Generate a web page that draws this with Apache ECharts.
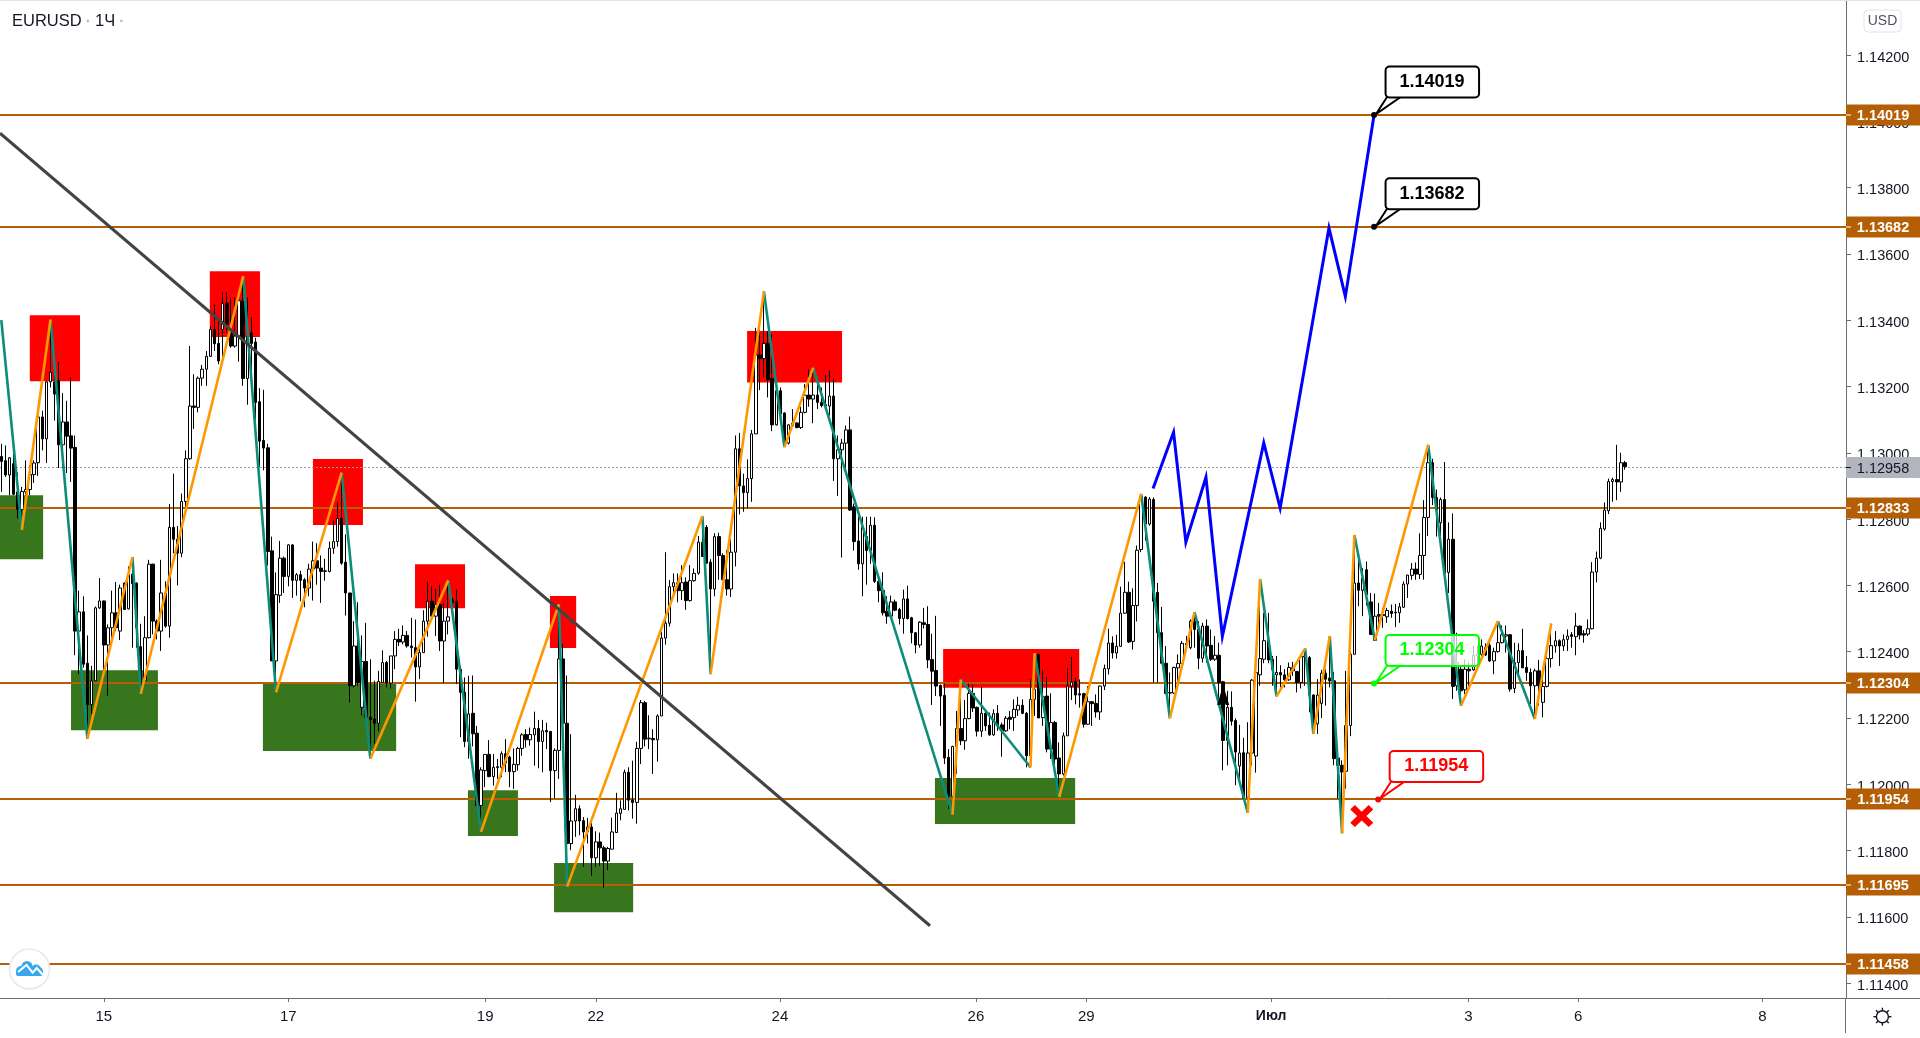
<!DOCTYPE html>
<html>
<head>
<meta charset="utf-8">
<title>EURUSD 1Ч</title>
<script src="https://cdn.jsdelivr.net/npm/echarts@6/dist/echarts.min.js"></script>
<style>
html,body{margin:0;padding:0;background:#fff}
#container{width:1920px;height:1038px}
</style>
</head>
<body>
<div id="container"></div>
<script type="text/javascript">
// hourly candles, prices in 1e-5 units
var opens = [
112989,112976,112933,112967,112882,112829,112882,112889,112934,112970,
113108,113042,113214,113214,113217,113024,113093,113051,113016,112462,
112520,112365,112240,112312,112532,112553,112420,112472,112517,112462,
112607,112529,112634,112607,112415,112312,112442,112664,112492,112462,
112577,112477,112775,112739,112697,112853,112982,113141,113137,113225,
113252,113291,113372,113330,113372,113451,113369,113322,113352,113457,
113224,113362,113334,113154,113037,113015,112704,112372,112570,112682,
112627,112722,112615,112632,112617,112592,112649,112674,112652,112642,
112642,112712,112732,112802,112670,112577,112297,112417,112232,112370,
112202,112197,112184,112307,112367,112305,112387,112437,112429,112449,
112417,112412,112354,112397,112492,112552,112507,112542,112432,112492,
112555,112552,112347,112277,112129,112214,112154,111936,112041,112090,
112023,112050,112051,112092,112082,112038,112059,112108,112150,112134,
112149,112168,112129,112162,112159,112041,112102,112378,112184,111821,
111889,111926,111890,111856,111871,111778,111826,111808,111768,111804,
111854,111912,111924,112036,111952,111945,112108,112246,112137,112138,
112134,112206,112441,112486,112596,112608,112584,112610,112554,112614,
112637,112730,112775,112670,112589,112747,112690,112617,112589,112700,
113012,112900,112880,112922,113057,113295,113284,113330,113223,113084,
113187,113120,113029,113089,113090,113076,113122,113174,113162,113174,
113152,113145,113141,113171,112982,113009,113029,113069,112837,112734,
112665,112747,112705,112781,112612,112584,112522,112507,112550,112527,
112500,112559,112502,112457,112420,112487,112482,112376,112343,112298,
112268,112081,111964,112114,112168,112131,112198,112274,112232,112160,
112214,112178,112149,112214,112179,112161,112202,112201,112224,112238,
112214,112086,112256,112391,112201,112266,112106,112186,112079,112031,
112146,112296,112311,112273,112273,112181,112249,112244,112218,112296,
112348,112426,112396,112416,112516,112579,112431,112539,112708,112866,
112785,112859,112579,112457,112365,112275,112275,112351,112364,112425,
112412,112492,112467,112380,112477,112419,112377,112389,112309,112132,
112232,112192,112055,112095,111959,112094,112085,112330,112377,112433,
112377,112330,112337,112330,112315,112342,112340,112307,112384,112382,
112269,112182,112244,112335,112320,112312,112079,112057,112039,112177,
112392,112607,112585,112647,112550,112434,112512,112512,112505,112522,
112519,112517,112534,112604,112630,112649,112633,112690,112805,112970,
112865,112789,112859,112639,112739,112297,112347,112285,112347,112345,
112387,112392,112412,112419,112372,112400,112427,112447,112451,112289,
112367,112403,112352,112337,112297,112342,112247,112295,112379,112417,
112433,112417,112437,112451,112445,112477,112454,112453,112469,112640,
112682,112770,112825,112913,112919,112912,112970];
var closes = [
112974,112933,112985,112875,112829,112883,112889,112935,112969,113108,
113042,113214,113243,113177,113024,113093,113050,113014,112462,112520,
112362,112240,112312,112532,112553,112420,112472,112517,112472,112592,
112527,112632,112605,112472,112277,112442,112664,112492,112462,112577,
112477,112775,112739,112697,112853,112982,113141,113137,113225,113252,
113291,113372,113329,113277,113451,113387,113322,113352,113459,113224,
113352,113330,113152,113035,113014,112702,112372,112572,112682,112627,
112722,112615,112632,112615,112592,112649,112674,112652,112642,112644,
112712,112732,112802,112667,112577,112297,112417,112307,112370,112202,
112195,112184,112310,112367,112305,112387,112437,112429,112449,112417,
112412,112354,112397,112492,112552,112507,112542,112432,112492,112505,
112547,112347,112277,112129,112212,112152,111936,112043,112090,112023,
112051,112053,112092,112064,112038,112060,112108,112149,112134,112150,
112168,112129,112161,112158,112041,112102,112378,112184,111821,111889,
111926,111889,111856,111871,111778,111826,111808,111768,111806,111856,
111913,111926,112036,111952,111945,112108,112246,112136,112139,112134,
112206,112441,112486,112596,112608,112584,112608,112554,112614,112636,
112730,112687,112667,112589,112747,112690,112617,112589,112700,113012,
112900,112880,112922,113057,113295,113284,113330,113221,113084,113187,
113117,113020,113084,113082,113076,113122,113174,113162,113174,113152,
113142,113141,113171,112982,113009,113029,113069,112827,112732,112665,
112775,112705,112781,112612,112584,112517,112507,112550,112525,112500,
112559,112500,112457,112420,112489,112482,112375,112341,112296,112266,
112079,111964,112114,112168,112131,112198,112274,112230,112160,112214,
112176,112149,112213,112176,112161,112199,112196,112226,112238,112214,
112086,112256,112286,112200,112264,112106,112186,112076,112031,112146,
112296,112308,112269,112269,112181,112249,112243,112218,112296,112349,
112426,112396,112416,112516,112579,112429,112539,112706,112869,112785,
112860,112552,112457,112365,112274,112277,112352,112364,112425,112420,
112492,112467,112380,112477,112417,112377,112389,112307,112132,112232,
112190,112097,112094,111957,112094,112314,112337,112379,112433,112375,
112347,112337,112330,112315,112352,112352,112307,112385,112387,112269,
112157,112269,112335,112317,112312,112077,112057,112037,112177,112392,
112607,112585,112622,112572,112452,112507,112507,112509,112524,112515,
112517,112535,112604,112631,112649,112634,112690,112805,112970,112865,
112827,112859,112637,112739,112295,112367,112282,112347,112342,112389,
112393,112417,112390,112372,112400,112427,112451,112451,112287,112367,
112403,112351,112337,112297,112342,112297,112295,112379,112418,112433,
112417,112436,112447,112446,112477,112450,112450,112469,112640,112682,
112772,112827,112913,112919,112912,112970,112958];
var highs = [
113027,113022,112987,112997,112941,112897,112977,112962,112977,113112,
113127,113217,113402,113247,113274,113180,113157,113229,113052,112584,
112567,112449,112357,112536,112622,112554,112482,112584,112610,112602,
112609,112657,112685,112609,112484,112507,112677,112665,112497,112677,
112612,112845,112937,112779,112877,113007,113322,113237,113230,113265,
113307,113382,113447,113397,113484,113484,113467,113469,113469,113533,
113469,113409,113347,113195,113190,113027,112747,112639,112734,112687,
112724,112724,112637,112644,112622,112665,112732,112727,112690,112680,
112732,112797,112852,112940,112754,112577,112492,112549,112449,112487,
112377,112312,112342,112404,112372,112387,112462,112469,112479,112462,
112502,112497,112417,112525,112611,112597,112589,112602,112547,112615,
112562,112587,112357,112322,112327,112328,112176,112051,112090,112133,
112091,112076,112099,112136,112086,112108,112113,112154,112166,112171,
112219,112194,112194,112186,112161,112108,112543,112424,112328,112151,
111968,111936,111901,111898,111886,111858,111854,111814,111811,111899,
111974,111951,112044,112051,112071,112128,112254,112251,112208,112166,
112211,112461,112700,112616,112636,112636,112661,112624,112661,112651,
112749,112809,112782,112679,112757,112759,112697,112707,112739,113052,
113060,112937,112980,113069,113377,113377,113487,113367,113357,113189,
113197,113122,113087,113132,113092,113139,113207,113252,113257,113207,
113197,113235,113249,113225,113052,113042,113082,113109,112847,112807,
112807,112807,112807,112805,112629,112639,112567,112569,112557,112532,
112587,112599,112505,112459,112492,112532,112537,112454,112508,112301,
112304,112106,112116,112221,112316,112254,112304,112301,112234,112294,
112226,112216,112226,112239,112186,112206,112221,112256,112264,112256,
112218,112316,112396,112394,112346,112324,112274,112191,112126,112156,
112351,112384,112321,112316,112276,112296,112251,112271,112298,112361,
112469,112446,112451,112596,112671,112611,112591,112720,112876,112869,
112866,112865,112607,112535,112417,112337,112355,112392,112432,112447,
112497,112519,112492,112487,112497,112467,112447,112427,112312,112282,
112280,112199,112179,112140,112187,112317,112372,112619,112517,112517,
112387,112387,112359,112347,112367,112369,112342,112392,112410,112387,
112272,112317,112345,112347,112447,112339,112117,112072,112342,112399,
112752,112677,112652,112672,112577,112575,112547,112532,112532,112542,
112544,112547,112612,112632,112667,112669,112757,112857,113024,112982,
112889,112865,112972,112790,112817,112457,112357,112377,112367,112417,
112419,112437,112425,112429,112412,112492,112479,112479,112452,112427,
112425,112469,112387,112349,112349,112375,112347,112395,112485,112462,
112437,112452,112467,112459,112517,112479,112465,112497,112670,112702,
112790,112850,112922,112925,113024,113000,112975];
var lows = [
112882,112927,112872,112872,112802,112767,112827,112872,112909,112930,
113007,112969,113197,113097,112954,112954,112939,112912,112389,112332,
112352,112137,112212,112312,112529,112317,112267,112422,112462,112435,
112527,112527,112412,112412,112272,112312,112440,112452,112437,112402,
112472,112442,112697,112600,112685,112817,112979,113072,113122,113202,
113202,113289,113307,113267,113277,113362,113317,113317,113275,113202,
113145,113227,113099,112957,112947,112660,112372,112277,112547,112577,
112597,112562,112569,112552,112534,112567,112554,112602,112547,112614,
112639,112695,112717,112662,112509,112247,112292,112297,112207,112202,
112077,112122,112159,112307,112292,112289,112347,112417,112422,112412,
112382,112249,112317,112397,112445,112492,112447,112402,112305,112452,
112517,112302,112142,112112,112077,112114,111934,111856,111991,112021,
111996,112016,112021,112036,111991,111986,112041,112086,112111,112116,
112056,112048,112036,112106,111946,111958,112016,112101,111691,111801,
111841,111846,111751,111821,111724,111751,111754,111688,111741,111804,
111854,111891,111924,111921,111896,111881,112061,112114,112106,112031,
112068,112206,112421,112476,112566,112549,112556,112526,112551,112611,
112632,112687,112665,112332,112567,112617,112615,112569,112565,112657,
112814,112822,112832,112852,113057,113189,113227,113167,113065,113082,
113117,113017,113025,113080,113074,113072,113119,113139,113089,113132,
113137,113139,113112,112915,112870,112684,112947,112825,112705,112647,
112567,112602,112665,112607,112549,112509,112484,112502,112522,112482,
112454,112497,112425,112395,112412,112470,112350,112239,112266,112176,
112061,111926,111908,112031,112118,112104,112196,112218,112144,112143,
112161,112146,112146,112161,112083,112158,112166,112161,112206,112211,
112051,112051,112206,112200,112176,112096,112076,112036,111961,112026,
112146,112254,112241,112231,112171,112179,112176,112201,112194,112284,
112331,112379,112379,112414,112514,112426,112406,112491,112700,112735,
112780,112307,112307,112362,112272,112199,112272,112292,112362,112415,
112407,112412,112347,112367,112367,112372,112372,112237,112042,112057,
112177,111997,112002,111957,111914,112057,112035,112297,112365,112365,
112297,112265,112292,112292,112312,112327,112277,112289,112297,112217,
112152,112152,112200,112237,112292,112057,111957,111852,111987,112145,
112392,112537,112507,112539,112452,112434,112475,112472,112487,112502,
112474,112487,112532,112562,112617,112617,112619,112617,112749,112842,
112747,112747,112637,112577,112257,112282,112237,112272,112287,112342,
112357,112387,112387,112369,112332,112397,112425,112397,112279,112275,
112327,112351,112312,112242,112197,112237,112202,112292,112352,112397,
112357,112402,112402,112412,112389,112437,112427,112447,112467,112609,
112679,112765,112815,112852,112857,112882,112949];

// zigzag pivots (bar number, price)
var pivotBars = [0,5,12,21,32,34,59,67,83,90,109,117,136,138,171,173,186,191,198,232,234,251,252,258,278,285,291,304,307,311,318,320,324,327,330,335,348,356,365,374,378];
var pivotPrices = [113400,112767,113402,112137,112685,112272,113533,112277,112940,112077,112615,111856,112543,111691,112809,112332,113487,113017,113257,111908,112316,112051,112396,111961,112876,112199,112519,111914,112619,112265,112410,112152,112447,111852,112752,112434,113024,112237,112492,112197,112485];

// blue projected path
var pathBars = [280.9,285.9,288.9,293.8,297.8,307.9,311.9,323.8,327.8,334.8];
var pathPrices = [112892,113062,112730,112926,112446,113030,112833,113678,113471,114019];

// falling trend line
var trendBars = [-0.32,226.5];
var trendPrices = [113964,111573];

// supply / demand boxes
var redFrom = [6.95,50.85,76,100.9,133.8,181.9,229.7];
var redTo = [19.2,63.1,88.2,113.1,140.2,205.05,262.9];
var redTop = [113415,113548,112981,112664,112568,113367,112408];
var redBottom = [113216,113349,112782,112531,112411,113212,112291];
var greenFrom = [-0.4,17,63.8,113.8,134.8,227.7];
var greenTo = [10.2,38.2,96.3,126,154.1,261.9];
var greenTop = [112872,112344,112302,111982,111762,112019];
var greenBottom = [112679,112163,112100,111844,111614,111880];

var levels = [1.14019,1.13682,1.12833,1.12304,1.11954,1.11695,1.11458];
var lastPrice = 1.12958;

var priceTicks = [1.114,1.116,1.118,1.12,1.122,1.124,1.126,1.128,1.13,1.132,1.134,1.136,1.138,1.14,1.142];
var timeTickBars = [25,70,118,145,189.9,237.7,264.6,309.7,357.8,384.6,429.5];
var timeTickLabels = ['15','17','19','22','24','26','29','Июл','3','6','8'];

var calloutBars = [334.8,334.8,334.8,335.8];
var calloutPrices = [1.14019,1.13682,1.12304,1.11954];
var calloutColors = ['#000000','#000000','#00ff00','#ff0000'];

var FONT = '"Liberation Sans", Arial, sans-serif';
var BROWN = '#b45f06';
var AXIS = '#6a6d78';
var TEXT = '#131722';

var candleData = opens.map(function (o, i) {
	return [i, o / 1e5, closes[i] / 1e5, lows[i] / 1e5, highs[i] / 1e5];
});

var upLegs = [], downLegs = [];
for (var k = 1; k < pivotBars.length; k++) {
	var leg = {coords: [[pivotBars[k - 1], pivotPrices[k - 1] / 1e5], [pivotBars[k], pivotPrices[k] / 1e5]]};
	(pivotPrices[k] > pivotPrices[k - 1] ? upLegs : downLegs).push(leg);
}

function pairUp(xs, ys) {
	return xs.map(function (x, i) { return [x, ys[i] / 1e5]; });
}

var zones = [];
redFrom.forEach(function (f, i) { zones.push([f, redTo[i], redTop[i] / 1e5, redBottom[i] / 1e5, '#ff0000']); });
greenFrom.forEach(function (f, i) { zones.push([f, greenTo[i], greenTop[i] / 1e5, greenBottom[i] / 1e5, '#38761d']); });

function renderZone(params, api) {
	var a = api.coord([api.value(0), api.value(2)]);
	var b = api.coord([api.value(1), api.value(3)]);
	return {
		type: 'rect',
		shape: {x: a[0], y: a[1], width: b[0] - a[0], height: b[1] - a[1]},
		style: {fill: zones[params.dataIndex][4]}
	};
}

function priceTag(right, y, text, bg, fg, weight, tickColor) {
	return [
		{type: 'rect', shape: {x: right, y: y - 10.5, width: 74, height: 21}, style: {fill: bg}},
		{type: 'line', shape: {x1: right, y1: y, x2: right + 5, y2: y}, style: {stroke: tickColor, lineWidth: 1}},
		{type: 'text', style: {text: text, x: right + 37, y: y + 1, fill: fg, textAlign: 'center', textVerticalAlign: 'middle',
			font: weight + ' 14.5px ' + FONT}}
	];
}

function renderLevel(params, api) {
	var y = Math.round(api.coord([0, api.value(1)])[1]);
	var c = params.coordSys;
	return {
		type: 'group',
		children: [
			{type: 'line', shape: {x1: c.x, y1: y, x2: c.x + c.width, y2: y}, style: {stroke: BROWN, lineWidth: 2}}
		].concat(priceTag(c.x + c.width, y, api.value(1).toFixed(5), BROWN, '#ffffff', 'bold', '#ffffff'))
	};
}

function renderLast(params, api) {
	var y = Math.round(api.coord([0, api.value(1)])[1]) + 0.5;
	var c = params.coordSys;
	return {
		type: 'group',
		children: [
			{type: 'line', shape: {x1: c.x, y1: y, x2: c.x + c.width, y2: y}, style: {stroke: '#9598a1', lineWidth: 1, lineDash: [2, 2]}}
		].concat(priceTag(c.x + c.width, y, lastPrice.toFixed(5), '#b2b5be', TEXT, 'normal', '#131722'))
	};
}

function renderCallout(params, api) {
	var p = api.coord([api.value(0), api.value(1)]);
	var color = calloutColors[params.dataIndex];
	var x = p[0], y = p[1];
	var fill = color === '#00ff00' ? 'rgba(255,255,255,0.75)' : '#ffffff';
	return {
		type: 'group',
		children: [
			{type: 'polygon', shape: {points: [[x + 13, y - 18], [x + 2, y - 1], [x + 26.5, y - 18]]}, style: {fill: '#ffffff', stroke: color, lineWidth: 2}},
			{type: 'circle', shape: {cx: x, cy: y, r: 3}, style: {fill: color}},
			{type: 'rect', shape: {x: x + 11.5, y: y - 48.5, width: 93.5, height: 31, r: 4}, style: {fill: fill, stroke: color, lineWidth: 2}},
			{type: 'text', style: {text: api.value(1).toFixed(5), x: x + 58, y: y - 33, fill: color, textAlign: 'center', textVerticalAlign: 'middle',
				font: 'bold 18px ' + FONT}}
		]
	};
}

var gearRays = [];
for (var g = 0; g < 8; g++) {
	var ang = g * Math.PI / 4;
	gearRays.push({type: 'line', shape: {x1: 6 * Math.cos(ang), y1: 6 * Math.sin(ang), x2: 9 * Math.cos(ang), y2: 9 * Math.sin(ang)},
		style: {stroke: '#131722', lineWidth: 1.4}});
}
gearRays.push({type: 'circle', shape: {cx: 0, cy: 0, r: 6}, style: {fill: '#ffffff', stroke: '#131722', lineWidth: 1.4}});

var cloudParts = [[21, 971, 5], [27, 966.5, 5.5], [36, 969.5, 5], [38.5, 971.5, 4.5]].map(function (c) {
	return {type: 'circle', z: 101, shape: {cx: c[0], cy: c[1], r: c[2]}, style: {fill: '#38a8ee'}};
});

var myChart = echarts.init(document.getElementById('container'), null, {renderer: 'canvas'});

var option = {
	animation: false,
	backgroundColor: '#ffffff',
	title: {
		left: 12, top: 13, padding: 0,
		text: '{a|EURUSD}{d| · }{a|1Ч}{d| ·}',
		textStyle: {
			fontWeight: 'normal',
			rich: {
				a: {fontFamily: FONT, fontSize: 16.5, color: '#131722', fontWeight: 'normal'},
				d: {fontFamily: FONT, fontSize: 15, color: '#b2b5be', fontWeight: 'bold'}
			}
		}
	},
	grid: {left: 0, right: 74, top: 0, bottom: 40},
	xAxis: {
		type: 'value',
		min: -0.32,
		max: 449.9,
		splitLine: {show: false},
		axisLine: {onZero: false, lineStyle: {color: AXIS}},
		axisTick: {length: 4, lineStyle: {color: AXIS}, customValues: timeTickBars},
		axisLabel: {
			customValues: timeTickBars,
			margin: 11,
			fontFamily: FONT,
			fontSize: 15,
			color: TEXT,
			formatter: function (v) {
				var s = timeTickLabels[timeTickBars.indexOf(v)];
				return s === 'Июл' ? '{b|' + s + '}' : s;
			},
			rich: {b: {fontFamily: FONT, fontSize: 14, fontWeight: 'bold', color: TEXT}}
		}
	},
	yAxis: {
		type: 'value',
		position: 'right',
		min: 1.11355,
		max: 1.14366,
		splitLine: {show: false},
		axisLine: {show: true, onZero: false, lineStyle: {color: AXIS}},
		axisTick: {show: true, length: 5, lineStyle: {color: AXIS}, customValues: priceTicks},
		axisLabel: {
			customValues: priceTicks,
			margin: 11,
			fontFamily: FONT,
			fontSize: 14.5,
			color: TEXT,
			formatter: function (v) { return '{v|' + v.toFixed(5) + '}'; },
			rich: {v: {fontFamily: FONT, fontSize: 14.5, color: TEXT, padding: [5, 0, 0, 0]}}
		}
	},
	series: [
		{
			type: 'custom', name: 'zones', z: 1, clip: false, silent: true,
			coordinateSystem: 'cartesian2d',
			encode: {x: [0, 1], y: [2, 3]},
			data: zones.map(function (z) { return z.slice(0, 4); }),
			renderItem: renderZone
		},
		{
			type: 'custom', name: 'levels', z: 2, clip: false, silent: true,
			coordinateSystem: 'cartesian2d',
			encode: {x: 0, y: 1},
			data: levels.map(function (v) { return [0, v]; }),
			renderItem: renderLevel
		},
		{
			type: 'custom', name: 'last', z: 2, clip: false, silent: true,
			coordinateSystem: 'cartesian2d',
			encode: {x: 0, y: 1},
			data: [[0, lastPrice]],
			renderItem: renderLast
		},
		{
			type: 'candlestick', name: 'EURUSD', z: 3, silent: true,
			barWidth: 3,
			encode: {x: 0, y: [1, 2, 3, 4]},
			itemStyle: {color: '#ffffff', color0: '#000000', borderColor: '#000000', borderColor0: '#000000', borderWidth: 1},
			data: candleData
		},
		{
			type: 'lines', name: 'down legs', coordinateSystem: 'cartesian2d', z: 4, silent: true,
			lineStyle: {color: '#0c8c7a', width: 2.6, opacity: 1},
			data: downLegs
		},
		{
			type: 'lines', name: 'up legs', coordinateSystem: 'cartesian2d', z: 4, silent: true,
			lineStyle: {color: '#ff9800', width: 2.6, opacity: 1},
			data: upLegs
		},
		{
			type: 'lines', name: 'projection', coordinateSystem: 'cartesian2d', z: 5, silent: true,
			polyline: true,
			lineStyle: {color: '#0000ff', width: 3, opacity: 1, join: 'miter', miterLimit: 10},
			data: [{coords: pairUp(pathBars, pathPrices)}]
		},
		{
			type: 'lines', name: 'trend', coordinateSystem: 'cartesian2d', z: 5, silent: true,
			lineStyle: {color: '#434343', width: 3, opacity: 1},
			data: [{coords: pairUp(trendBars, trendPrices)}]
		},
		{
			type: 'scatter', name: 'marks', z: 6, silent: true,
			data: [
				{value: [331.8, 1.11904], symbol: 'path://M2,6 L6,2 L12,8 L18,2 L22,6 L16,12 L22,18 L18,22 L12,16 L6,22 L2,18 L8,12 Z', symbolSize: [23, 22], itemStyle: {color: '#ff0000', opacity: 1}},
				{value: [298, 1.12269], symbol: 'path://M12,0 L24,22 L17,22 L12,13 L7,22 L0,22 Z', symbolSize: [12, 20], itemStyle: {color: '#000000', opacity: 1}}
			]
		},
		{
			type: 'custom', name: 'callouts', z: 7, clip: false, silent: true,
			coordinateSystem: 'cartesian2d',
			encode: {x: 0, y: 1},
			data: pairUp(calloutBars, calloutPrices.map(function (v) { return v * 1e5; })),
			renderItem: renderCallout
		}
	],
	graphic: {
		elements: [
			{type: 'rect', z: 100, shape: {x: 0, y: 0, width: 1920, height: 1}, style: {fill: '#e0e3eb'}},
			{type: 'line', z: 100, shape: {x1: 1846, y1: 998.5, x2: 1920, y2: 998.5}, style: {stroke: AXIS, lineWidth: 1}},
			{type: 'line', z: 100, shape: {x1: 1845.5, y1: 998, x2: 1845.5, y2: 1033}, style: {stroke: AXIS, lineWidth: 1}},
			{type: 'rect', z: 100, shape: {x: 1864, y: 10, width: 37, height: 22, r: 4}, style: {fill: '#ffffff', stroke: '#e0e3eb', lineWidth: 1}},
			{type: 'text', z: 101, x: 1882.5, y: 21, style: {text: 'USD', fill: '#50535e', font: '14px ' + FONT, textAlign: 'center', textVerticalAlign: 'middle'}},
			{type: 'group', z: 100, x: 1882.4, y: 1016.7, children: gearRays},
			{type: 'circle', z: 100, shape: {cx: 29.5, cy: 969, r: 20}, style: {fill: '#ffffff', stroke: '#e8e8ea', lineWidth: 1.5}},
			{type: 'rect', z: 101, shape: {x: 16, y: 970, width: 27, height: 6, r: 2}, style: {fill: '#38a8ee'}}
		].concat(cloudParts).concat([
			{type: 'polyline', z: 102, shape: {points: [[18, 972], [26.5, 965], [32.6, 972.7], [36.7, 968], [43, 975]]}, style: {stroke: '#ffffff', lineWidth: 2, fill: 'none'}}
		])
	}
};
myChart.setOption(option);
</script>
</body>
</html>
